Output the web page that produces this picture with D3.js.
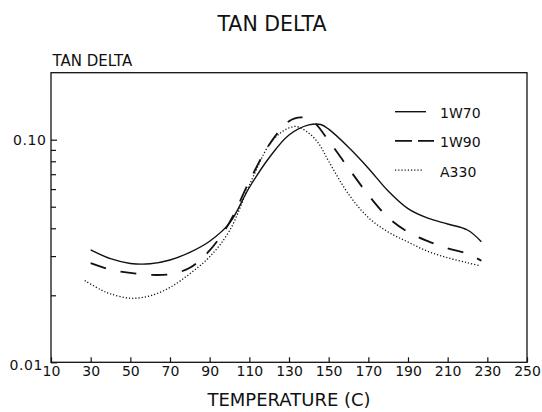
<!DOCTYPE html>
<html>
<head>
<meta charset="utf-8">
<script src="https://cdn.jsdelivr.net/npm/d3@7"></script>
<style>
  body { margin: 0; background: #fff; }
  text { font-family: "DejaVu Sans", sans-serif; fill: #111; }
</style>
</head>
<body>
<script>
// temperatures (C) and tan delta values
const temp1W70 = [30, 40, 50, 60, 70, 80, 90, 100, 110, 120, 130, 140, 146, 150, 160, 170, 180, 190, 200, 210, 220, 227]
const tan1W70 = [0.0320, 0.0292, 0.0278, 0.0277, 0.0288, 0.0312, 0.0350, 0.0422, 0.0610, 0.0830, 0.1050, 0.1165, 0.1170, 0.1115, 0.0925, 0.0745, 0.0588, 0.0490, 0.0444, 0.0418, 0.0393, 0.0348]

const temp1W90 = [30, 40, 50, 60, 70, 80, 90, 100, 110, 120, 130, 136, 142, 150, 160, 170, 180, 190, 200, 210, 220, 227]
const tan1W90 = [0.0279, 0.0261, 0.0252, 0.0247, 0.0249, 0.0266, 0.0318, 0.0425, 0.0650, 0.0950, 0.1210, 0.1260, 0.1210, 0.0990, 0.0745, 0.0565, 0.0447, 0.0385, 0.0350, 0.0325, 0.0307, 0.0286]

const tempA330 = [27, 35, 40, 50, 60, 70, 80, 90, 100, 110, 120, 125, 130, 134, 140, 145, 150, 160, 170, 180, 190, 200, 210, 220, 226]
const tanA330 = [0.0233, 0.0212, 0.0203, 0.0194, 0.0199, 0.0217, 0.0250, 0.0298, 0.0390, 0.0625, 0.0950, 0.1060, 0.1130, 0.1145, 0.1070, 0.0960, 0.0800, 0.0570, 0.0447, 0.0385, 0.0347, 0.0315, 0.0295, 0.0280, 0.0272]

const seriesNames = ["1W70", "1W90", "A330"]
const xTicks = [10, 30, 50, 70, 90, 110, 130, 150, 170, 190, 210, 230, 250]
const yLabels = [0.01, 0.1]
const yMinor = [0.02, 0.03, 0.04, 0.05, 0.06, 0.07, 0.08, 0.09]

const width = 542
const height = 412
const plot = { left: 51, right: 527, top: 72.7, bottom: 362.3 }

const svg = d3.select("body")
  .append("svg")
    .attr("width", width)
    .attr("height", height)

const x = d3.scaleLinear().domain([10, 250]).range([plot.left, plot.right])
const y = d3.scaleLog().domain([0.01, 0.2]).range([plot.bottom, plot.top])

const styles = {
  "1W70": { w: 1.4, dash: null },
  "1W90": { w: 1.8, dash: "16,15" },
  "A330": { w: 1.3, dash: "1.2,2" }
}

// titles
svg.append("text")
  .attr("x", 272).attr("y", 31)
  .attr("text-anchor", "middle")
  .style("font-size", "20.5px")
  .text("TAN DELTA")

svg.append("text")
  .attr("x", 52.5).attr("y", 66)
  .style("font-size", "15px")
  .text("TAN DELTA")

svg.append("text")
  .attr("x", 289).attr("y", 406)
  .attr("text-anchor", "middle")
  .style("font-size", "18px")
  .text("TEMPERATURE (C)")

// axes, ticks pointing inward
const xAxis = svg.append("g")
  .attr("transform", `translate(0,${plot.bottom})`)
  .call(d3.axisBottom(x).tickValues(xTicks).tickSizeInner(-5).tickSizeOuter(0).tickPadding(4))
xAxis.select(".domain").remove()

const yAxis = svg.append("g")
  .attr("transform", `translate(${plot.left},0)`)
  .call(d3.axisLeft(y).tickValues(yLabels).tickFormat(d3.format(".2f")).tickSizeInner(-6).tickSizeOuter(0).tickPadding(4.5))
yAxis.select(".domain").remove()

const yMinorAxis = svg.append("g")
  .attr("transform", `translate(${plot.left},0)`)
  .call(d3.axisLeft(y).tickValues(yMinor).tickFormat("").tickSizeInner(-5).tickSizeOuter(0))
yMinorAxis.select(".domain").remove()

svg.selectAll(".tick line").attr("stroke", "#111").attr("stroke-width", 1.2)
svg.selectAll(".tick text")
  .style("font-family", "'DejaVu Sans', sans-serif")
  .style("font-size", "14px")
  .attr("fill", "#111")
yAxis.selectAll(".tick text")
  .style("letter-spacing", "0.6px")
yAxis.selectAll(".tick text").filter((d) => d === 0.01)
  .attr("dy", "0.5em")
  .attr("dx", "-3.5")

// frame
svg.append("rect")
  .attr("x", plot.left).attr("y", plot.top)
  .attr("width", plot.right - plot.left)
  .attr("height", plot.bottom - plot.top)
  .attr("fill", "none")
  .attr("stroke", "#111")
  .attr("stroke-width", 1.3)

// curves
const series = [
  { name: "1W70", temps: temp1W70, vals: tan1W70 },
  { name: "1W90", temps: temp1W90, vals: tan1W90 },
  { name: "A330", temps: tempA330, vals: tanA330 }
]

const line = d3.line()
  .x((d) => x(d[0]))
  .y((d) => y(d[1]))
  .curve(d3.curveCatmullRom.alpha(0.5))

svg.selectAll("path.curve")
  .data(series)
  .enter()
    .append("path")
    .attr("class", "curve")
    .attr("d", (s) => line(s.temps.map((t, i) => [t, s.vals[i]])))
    .attr("fill", "none")
    .attr("stroke", "#111")
    .attr("stroke-width", (s) => styles[s.name].w)
    .attr("stroke-dasharray", (s) => styles[s.name].dash)

// legend
const legendLines = [{ x1: 395, x2: 426 }, { x1: 395, x2: 434 }, { x1: 395, x2: 423 }]
const legend = svg.selectAll("g.legend")
  .data(seriesNames)
  .enter()
    .append("g")
    .attr("class", "legend")
    .attr("transform", (d, i) => `translate(0,${111.7 + i * 29.2})`)

legend.append("line")
  .attr("x1", (d, i) => legendLines[i].x1)
  .attr("x2", (d, i) => legendLines[i].x2)
  .attr("stroke", "#111")
  .attr("stroke-width", (d) => styles[d].w)
  .attr("stroke-dasharray", (d) => d === "1W90" ? "17,6" : styles[d].dash)

legend.append("text")
  .attr("x", 440)
  .attr("y", 6.5)
  .style("font-size", "14px")
  .text((d) => d)
</script>
</body>
</html>
